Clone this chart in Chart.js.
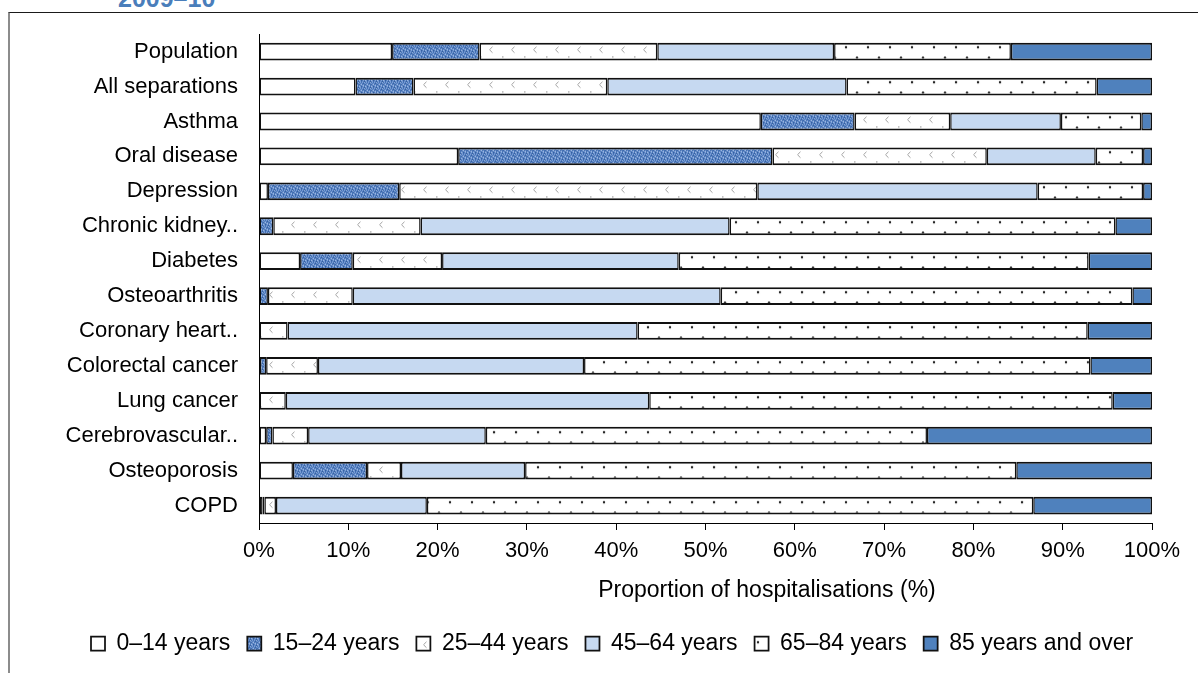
<!DOCTYPE html>
<html><head><meta charset="utf-8">
<script src="https://cdn.jsdelivr.net/npm/chart.js@4"></script>
<style>
html,body{margin:0;padding:0;background:#fff;width:1198px;height:673px;overflow:hidden;font-family:"Liberation Sans",Arial,sans-serif}
#frame{position:absolute;left:8px;top:12px;width:1190px;height:661px;border-top:1px solid #1a1a1a;border-left:2px solid #8c8c8c;box-sizing:border-box}
#yr{position:absolute;left:118px;top:-14px;font-weight:bold;font-size:25px;color:#4a7ebb;line-height:25px;white-space:nowrap}
#wrap{position:absolute;left:0;top:0;width:1198px;height:673px}
#xt{position:absolute;left:517px;width:500px;top:575px;line-height:28px;text-align:center;font-size:23px;color:#000;white-space:nowrap}
</style></head><body>
<div id="yr">2009–10</div>
<div id="frame"></div>
<div id="wrap"><canvas id="c" width="1198" height="673"></canvas></div>
<div id="xt">Proportion of hospitalisations (%)</div>
<script>
const categories = ['Population','All separations','Asthma','Oral disease','Depression','Chronic kidney..','Diabetes','Osteoarthritis','Coronary heart..','Colorectal cancer','Lung cancer','Cerebrovascular..','Osteoporosis','COPD'];
const seriesNames = ['0–14 years','15–24 years','25–44 years','45–64 years','65–84 years','85 years and over'];
const age0to14  = [14.9, 10.8, 56.2, 22.3,  1.0,  0.0,  4.6,  0.0,  0.0,  0.1,  0.0,  0.8,  3.8,  0.4];
const age15to24 = [ 9.8,  6.5, 10.5, 35.2, 14.7,  1.6,  5.9,  1.0,  0.0,  0.7,  0.0,  0.7,  8.3,  0.2];
const age25to44 = [19.9, 21.7, 10.7, 24.0, 40.1, 16.5, 10.0,  9.5,  3.2,  5.8,  3.0,  4.0,  3.8,  1.3];
const age45to64 = [19.8, 26.8, 12.4, 12.2, 31.4, 34.6, 26.5, 41.2, 39.2, 29.8, 40.7, 19.9, 13.9, 16.9];
const age65to84 = [19.8, 28.0,  9.0,  5.3, 11.8, 43.2, 45.9, 46.1, 50.4, 56.7, 51.9, 49.4, 55.0, 67.9];
const age85plus = [15.8,  6.2,  1.2,  1.0,  1.0,  4.1,  7.1,  2.2,  7.2,  6.9,  4.4, 25.2, 15.2, 13.3];
const xTickLabels = ['0%','10%','20%','30%','40%','50%','60%','70%','80%','90%','100%'];

const canvas = document.getElementById('c');
const mctx = canvas.getContext('2d');
function tile(w, h, draw) {
  const c = document.createElement('canvas'); c.width = w; c.height = h;
  const g = c.getContext('2d'); draw(g); return mctx.createPattern(c, 'repeat');
}
// textured blue
const texMap = ["abadab","bacaba","dabacb","abdaba","cabadb","abacab"];
const texCol = {a:'#4673b6', b:'#7a9ed6', c:'#2f5a9c', d:'#a6c0e6'};
const patBlueTex = tile(6, 6, g => {
  for (let y = 0; y < 6; y++) for (let x = 0; x < 6; x++) { g.fillStyle = texCol[texMap[y][x]]; g.fillRect(x, y, 1, 1); }
});
// chevrons
const patChevron = tile(22, 35, g => {
  g.fillStyle = '#fff'; g.fillRect(0, 0, 22, 35);
  g.strokeStyle = '#a0a0a0'; g.lineWidth = 1;
  g.beginPath(); g.moveTo(13.5, 12.5); g.lineTo(10.5, 15.5); g.lineTo(13.5, 18.5); g.stroke();
  g.fillStyle = '#b0b0b0'; g.fillRect(1, 22, 1.5, 1.5);
});
// dots
const patDots = tile(22, 35, g => {
  g.fillStyle = '#fff'; g.fillRect(0, 0, 22, 35);
  g.fillStyle = '#222';
  g.beginPath(); g.arc(15, 13, 1.2, 0, Math.PI * 2); g.fill();
  g.beginPath(); g.arc(4, 23.5, 1.2, 0, Math.PI * 2); g.fill();
});

const fills = ['#ffffff', patBlueTex, patChevron, '#c6d9f1', patDots, '#4f81bd'];
const seriesData = [age0to14, age15to24, age25to44, age45to64, age65to84, age85plus];

const alignPlugin = {
  id: 'alignPlugin',
  afterLayout(chart) {
    const a = chart.chartArea;
    const m = new DOMMatrix([1, 0, 0, 1, a.left, a.top]);
    [patBlueTex, patChevron, patDots].forEach(p => p.setTransform(m));
    if (chart.legend) {
      const w = chart.legend.width;
      chart.legend.left = 74; chart.legend.right = 74 + w;
    }
  }
};

new Chart(canvas, {
  type: 'bar',
  data: {
    labels: categories,
    datasets: seriesNames.map((n, i) => ({
      label: n,
      data: seriesData[i],
      backgroundColor: fills[i],
      borderColor: '#111',
      borderWidth: {top: 2, bottom: 2, left: 1.5, right: 1.5},
      borderSkipped: false,
      barPercentage: 0.51,
      categoryPercentage: 1
    }))
  },
  options: {
    indexAxis: 'y',
    responsive: false,
    animation: false,
    layout: {padding: {top: 33, right: 46, bottom: 8, left: 0}},
    scales: {
      x: {
        stacked: true, min: 0, max: 100,
        ticks: {stepSize: 10, color: '#000', padding: 8, font: {family: 'Liberation Sans', size: 22},
          callback: (v, i) => xTickLabels[i]},
        grid: {drawOnChartArea: false, drawTicks: true, tickLength: 7, color: '#000', tickColor: '#000'},
        border: {display: true, color: '#000', width: 1},
        afterFit: s => { s.height = 92; }
      },
      y: {
        stacked: true,
        ticks: {color: '#000', padding: 21, font: {family: 'Liberation Sans', size: 22}},
        grid: {display: false, drawTicks: false},
        border: {display: true, color: '#000', width: 1},
        afterFit: s => { s.width = 259; }
      }
    },
    plugins: {
      legend: {
        position: 'bottom', align: 'start',
        labels: {boxWidth: 14, boxHeight: 14, padding: 17, color: '#000', font: {family: 'Liberation Sans', size: 23}}
      },
      tooltip: {enabled: false}
    }
  },
  plugins: [alignPlugin]
});
</script>
</body></html>
